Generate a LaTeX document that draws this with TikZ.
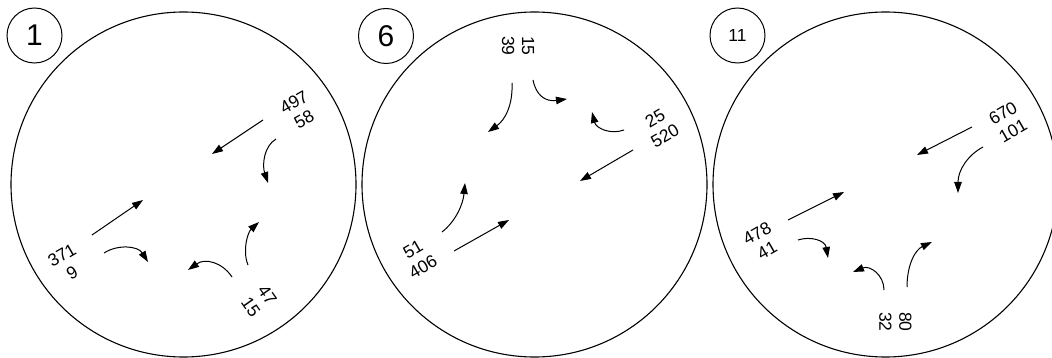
\documentclass[tikz,border=0pt]{standalone}
\usepackage{fontspec}
\setmainfont{Liberation Sans}
\usetikzlibrary{arrows.meta}
\tikzset{
  big/.style={draw, line width=1.1pt},
  tag/.style={draw, circle, line width=1pt, minimum size=55pt, inner sep=0pt},
  num/.style={inner sep=0pt, align=center, font=\fontsize{17.5}{20}\selectfont},
  flow/.style={line width=1pt, -{Triangle[length=11pt,width=7.5pt]}}
}
\begin{document}
\begin{tikzpicture}[x=1pt,y=-1pt]
\useasboundingbox (0,0) rectangle (1052,358);
\clip (0,0) rectangle (1052,358);
% ---------- panel 1 ----------
\draw[big] (183.5,184.5) circle (172.5);
\node[tag, font=\fontsize{30}{32}\selectfont] (t1) at (34.5,35.5) {1};
\node[num, rotate=30] (a497) at (299,111) {497\\58};
\node[num, rotate=30] (a371) at (67,264) {371\\9};
\node[num, rotate=-55] (a47) at (259,301) {47\\15};
\coordinate (p1s) at (263,120); \coordinate (p1e) at (212,154);
\coordinate (p2s) at (276,139); \coordinate (p2e) at (268,183);
\coordinate (p3s) at (92,235);  \coordinate (p3e) at (143,200);
\coordinate (p4s) at (104,253); \coordinate (p4e) at (148,262);
\coordinate (p5s) at (232,277); \coordinate (p5e) at (188,270);
\coordinate (p6s) at (248,265); \coordinate (p6e) at (259,222);
\draw[flow] (p1s) -- (p1e);
\draw[flow] (p2s) .. controls (264,146) and (262,165) .. (p2e);
\draw[flow] (p3s) -- (p3e);
\draw[flow] (p4s) .. controls (118,244) and (138,246) .. (p4e);
\draw[flow] (p5s) .. controls (222,262) and (205,258) .. (p5e);
\draw[flow] (p6s) .. controls (242,250) and (248,232) .. (p6e);
% ---------- panel 6 ----------
\draw[big] (534.5,184.5) circle (172.5);
\node[tag, font=\fontsize{30}{32}\selectfont] (t6) at (386,36) {6};
\node[num, rotate=-90] (b15) at (518,46) {15\\39};
\node[num, rotate=30] (b25) at (660,127) {25\\520};
\node[num, rotate=30] (b51) at (418,258) {51\\406};
\coordinate (q1s) at (512,83);  \coordinate (q1e) at (488,132);
\coordinate (q2s) at (533,80);  \coordinate (q2e) at (567,99);
\coordinate (q3s) at (624,130); \coordinate (q3e) at (592,112);
\coordinate (q4s) at (633,150); \coordinate (q4e) at (580,181);
\coordinate (q5s) at (442,232); \coordinate (q5e) at (465,183);
\coordinate (q6s) at (454,251); \coordinate (q6e) at (509,220);
\draw[flow] (q1s) .. controls (513,105) and (505,120) .. (q1e);
\draw[flow] (q2s) .. controls (536,95) and (545,102) .. (q2e);
\draw[flow] (q3s) .. controls (610,135) and (596,128) .. (q3e);
\draw[flow] (q4s) -- (q4e);
\draw[flow] (q5s) .. controls (455,222) and (463,205) .. (q5e);
\draw[flow] (q6s) -- (q6e);
% ---------- panel 11 ----------
\draw[big] (885.5,184.5) circle (172.5);
\node[tag, font=\fontsize{17.5}{19}\selectfont] (t11) at (737.5,35.5) {11};
\node[num, rotate=30] (c670) at (1008,122) {670\\101};
\node[num, rotate=30] (c478) at (762,242) {478\\41};
\node[num, rotate=-90] (c80) at (895.5,322) {80\\32};
\coordinate (r1s) at (972,127); \coordinate (r1e) at (917,155);
\coordinate (r2s) at (983,147); \coordinate (r2e) at (958,193);
\coordinate (r3s) at (788,220); \coordinate (r3e) at (844,192);
\coordinate (r4s) at (798,240); \coordinate (r4e) at (828,258);
\coordinate (r5s) at (884,290); \coordinate (r5e) at (853,272);
\coordinate (r6s) at (907,287); \coordinate (r6e) at (932,242);
\draw[flow] (r1s) -- (r1e);
\draw[flow] (r2s) .. controls (968,155) and (958,170) .. (r2e);
\draw[flow] (r3s) -- (r3e);
\draw[flow] (r4s) .. controls (810,236) and (825,240) .. (r4e);
\draw[flow] (r5s) .. controls (884,275) and (870,265) .. (r5e);
\draw[flow] (r6s) .. controls (907,265) and (915,250) .. (r6e);
\end{tikzpicture}
\end{document}
